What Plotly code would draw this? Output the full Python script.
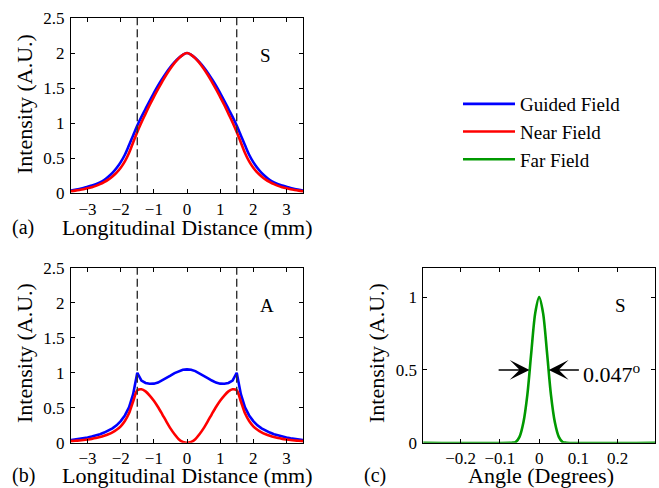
import plotly.graph_objects as go

# ---------------- data ----------------
# Panel (a): symmetric mode, longitudinal distance (mm) vs intensity
xa = [-3.5, -3.375, -3.25, -3.125, -3.0, -2.875, -2.75, -2.625, -2.5, -2.375, -2.25, -2.125,
      -2.0, -1.875, -1.75, -1.625, -1.5, -1.375, -1.25, -1.125, -1.0, -0.875, -0.75, -0.625,
      -0.5, -0.375, -0.25, -0.125, 0.0,
      0.125, 0.25, 0.375, 0.5, 0.625, 0.75, 0.875, 1.0, 1.125, 1.25, 1.375, 1.5, 1.625, 1.75,
      1.875, 2.0, 2.125, 2.25, 2.375, 2.5, 2.625, 2.75, 2.875, 3.0, 3.125, 3.25, 3.375, 3.5]
guided_a = [0.04, 0.05, 0.061, 0.075, 0.092, 0.11, 0.13, 0.155, 0.19, 0.235, 0.29, 0.36,
            0.445, 0.55, 0.685, 0.825, 0.965, 1.09, 1.205, 1.32, 1.43, 1.535, 1.63, 1.72,
            1.80, 1.87, 1.93, 1.975, 2.0,
            1.975, 1.93, 1.87, 1.80, 1.72, 1.63, 1.535, 1.43, 1.32, 1.205, 1.09, 0.965, 0.825, 0.685,
            0.55, 0.445, 0.36, 0.29, 0.235, 0.19, 0.155, 0.13, 0.11, 0.092, 0.075, 0.061, 0.05, 0.04]
near_a = [0.03, 0.038, 0.047, 0.058, 0.072, 0.088, 0.106, 0.13, 0.16, 0.195, 0.24, 0.295,
          0.365, 0.455, 0.575, 0.725, 0.875, 1.01, 1.135, 1.26, 1.375, 1.485, 1.59, 1.69,
          1.78, 1.86, 1.925, 1.975, 2.0,
          1.975, 1.925, 1.86, 1.78, 1.69, 1.59, 1.485, 1.375, 1.26, 1.135, 1.01, 0.875, 0.725, 0.575,
          0.455, 0.365, 0.295, 0.24, 0.195, 0.16, 0.13, 0.106, 0.088, 0.072, 0.058, 0.047, 0.038, 0.03]

# Panel (b): antisymmetric mode
xb = xa
guided_b = [0.038, 0.045, 0.054, 0.064, 0.075, 0.088, 0.103, 0.122, 0.145, 0.172, 0.205, 0.248,
            0.31, 0.39, 0.505, 0.695, 1.0, 0.89, 0.855, 0.843, 0.845, 0.86, 0.89, 0.925,
            0.96, 0.995, 1.025, 1.045, 1.05,
            1.045, 1.025, 0.995, 0.96, 0.925, 0.89, 0.86, 0.845, 0.843, 0.855, 0.89, 1.0, 0.695, 0.505,
            0.39, 0.31, 0.248, 0.205, 0.172, 0.145, 0.122, 0.103, 0.088, 0.075, 0.064, 0.054, 0.045, 0.038]
near_b = [0.022, 0.027, 0.032, 0.038, 0.046, 0.055, 0.066, 0.08, 0.098, 0.12, 0.148, 0.185,
          0.235, 0.31, 0.42, 0.59, 0.75, 0.765, 0.735, 0.675, 0.60, 0.51, 0.41, 0.305,
          0.205, 0.12, 0.05, 0.012, 0.0,
          0.012, 0.05, 0.12, 0.205, 0.305, 0.41, 0.51, 0.60, 0.675, 0.735, 0.765, 0.75, 0.59, 0.42,
          0.31, 0.235, 0.185, 0.148, 0.12, 0.098, 0.08, 0.066, 0.055, 0.046, 0.038, 0.032, 0.027, 0.022]

# Panel (c): far field, angle (degrees) vs intensity
xc = [-0.3, -0.07, -0.06, -0.05, -0.04, -0.03, -0.02, -0.01, 0.0,
      0.01, 0.02, 0.03, 0.04, 0.05, 0.06, 0.07, 0.3]
far_c = [0.0, 0.0, 0.004, 0.04, 0.14, 0.33, 0.62, 0.89, 1.0,
         0.89, 0.62, 0.33, 0.14, 0.04, 0.004, 0.0, 0.0]

boundaries = [-1.5, 1.5]          # waveguide edges (mm)
dash_y = [0, 2.5]
fwhm_label = "0.047<sup>o</sup>"
half_max = 0.5
fwhm_edges = [-0.0245, 0.0245]
arrow_tails = [-0.107, 0.105]

x_ticks_ab = [-3, -2, -1, 0, 1, 2, 3]
y_ticks_ab = [0, 0.5, 1, 1.5, 2, 2.5]
x_ticks_c = [-0.2, -0.1, 0, 0.1, 0.2]
y_ticks_c = [0, 0.5, 1]

# ---------------- figure ----------------
W, H = 659, 488
FONT = "Liberation Serif, Times New Roman, serif"
BLUE, RED, GREEN = "#0000FF", "#FF0000", "#009900"
DASH = "#333333"
LW = 2.6

fig = go.Figure()

# Panel (a)
fig.add_trace(go.Scatter(x=xa, y=guided_a, mode="lines",
                         line=dict(color=BLUE, width=LW, shape="spline", smoothing=1.0),
                         name="Guided Field", xaxis="x", yaxis="y", showlegend=True))
fig.add_trace(go.Scatter(x=xa, y=near_a, mode="lines",
                         line=dict(color=RED, width=LW, shape="spline", smoothing=1.0),
                         name="Near Field", xaxis="x", yaxis="y", showlegend=True))
for b in boundaries:
    fig.add_trace(go.Scatter(x=[b, b], y=dash_y, mode="lines", line=dict(color=DASH, width=1.4, dash="8px,4px"),
                             xaxis="x", yaxis="y", showlegend=False, hoverinfo="skip"))

# Panel (b)
fig.add_trace(go.Scatter(x=xb, y=guided_b, mode="lines", line=dict(color=BLUE, width=LW),
                         name="Guided Field", xaxis="x2", yaxis="y2", showlegend=False))
fig.add_trace(go.Scatter(x=xb, y=near_b, mode="lines",
                         line=dict(color=RED, width=LW, shape="spline", smoothing=0.8),
                         name="Near Field", xaxis="x2", yaxis="y2", showlegend=False))
for b in boundaries:
    fig.add_trace(go.Scatter(x=[b, b], y=dash_y, mode="lines", line=dict(color=DASH, width=1.4, dash="8px,4px"),
                             xaxis="x2", yaxis="y2", showlegend=False, hoverinfo="skip"))

# Panel (c)
fig.add_trace(go.Scatter(x=xc, y=far_c, mode="lines", line=dict(color=GREEN, width=LW, shape="spline", smoothing=0.8),
                         name="Far Field", xaxis="x3", yaxis="y3", showlegend=True))

axis_common = dict(showline=True, linecolor="black", linewidth=1, mirror="ticks", ticks="inside",
                   ticklen=4, tickcolor="black", showgrid=False, zeroline=False, automargin=False,
                   tickfont=dict(family=FONT, size=17, color="black"))

dom_ab_x = [71 / W, 303 / W]
dom_c_x = [423.3 / W, 655 / W]
dom_a_y = [1 - 193.3 / H, 1 - 18 / H]
dom_bc_y = [1 - 442.7 / H, 1 - 268 / H]

fig.update_layout(
    width=W, height=H, margin=dict(l=0, r=0, t=0, b=0, pad=0, autoexpand=False),
    paper_bgcolor="white", plot_bgcolor="white",
    font=dict(family=FONT, color="black"),
    xaxis=dict(domain=dom_ab_x, range=[-3.5, 3.5], tickvals=x_ticks_ab, anchor="y", ticklabelstandoff=0, **axis_common),
    yaxis=dict(domain=dom_a_y, range=[0, 2.5], tickvals=y_ticks_ab, anchor="x", ticklabelstandoff=2, **axis_common),
    xaxis2=dict(domain=dom_ab_x, range=[-3.5, 3.5], tickvals=x_ticks_ab, anchor="y2", ticklabelstandoff=0, **axis_common),
    yaxis2=dict(domain=dom_bc_y, range=[0, 2.5], tickvals=y_ticks_ab, anchor="x2", ticklabelstandoff=2, **axis_common),
    xaxis3=dict(domain=dom_c_x, range=[-0.295, 0.295], tickvals=x_ticks_c, anchor="y3", ticklabelstandoff=0, **axis_common),
    yaxis3=dict(domain=dom_bc_y, range=[0, 1.2], tickvals=y_ticks_c, anchor="x3", ticklabelstandoff=2, **axis_common),
    legend=dict(x=458 / W, y=1 - 85 / H, xanchor="left", yanchor="top", bgcolor="rgba(0,0,0,0)",
                font=dict(family=FONT, size=19, color="black"), itemwidth=52, tracegroupgap=0),
    showlegend=True,
)

ann = []
def label(text, x, y, size=22, angle=0):
    ann.append(dict(text=text, x=x / W, y=1 - y / H, xref="paper", yref="paper", showarrow=False,
                    xanchor="center", yanchor="middle", textangle=angle,
                    font=dict(family=FONT, size=size, color="black")))

label("Longitudinal Distance (mm)", 187, 228)
label("Longitudinal Distance (mm)", 187, 475)
label("Angle (Degrees)", 541, 475)
label("(a)", 23, 228, size=20)
label("(b)", 23, 475, size=20)
label("(c)", 375, 475, size=20)
label("Intensity (A.U.)", 24, 104, angle=-90)
label("Intensity (A.U.)", 24, 353, angle=-90)
label("Intensity (A.U.)", 376, 353, angle=-90)

ann.append(dict(text="S", x=2.38, y=1.96, xref="x", yref="y", showarrow=False,
                font=dict(family=FONT, size=19, color="black")))
ann.append(dict(text="A", x=2.42, y=1.96, xref="x2", yref="y2", showarrow=False,
                font=dict(family=FONT, size=19, color="black")))
ann.append(dict(text="S", x=0.206, y=0.94, xref="x3", yref="y3", showarrow=False,
                font=dict(family=FONT, size=19, color="black")))
for edge, tail in zip(fwhm_edges, arrow_tails):
    ann.append(dict(text="", x=edge, y=half_max, ax=tail, ay=half_max, xref="x3", yref="y3",
                    axref="x3", ayref="y3", showarrow=True, arrowhead=3, arrowsize=2.2,
                    arrowwidth=1.5, arrowcolor="black"))
ann.append(dict(text=fwhm_label, x=0.107, y=0.48, xref="x3", yref="y3", showarrow=False,
                xanchor="left", yanchor="middle", font=dict(family=FONT, size=22, color="black")))

fig.update_layout(annotations=ann)
fig.write_html("out.html", config={"displayModeBar": False},
               post_script="document.body.style.margin='0';document.body.style.padding='0';"
                           "document.body.style.overflow='hidden';")
